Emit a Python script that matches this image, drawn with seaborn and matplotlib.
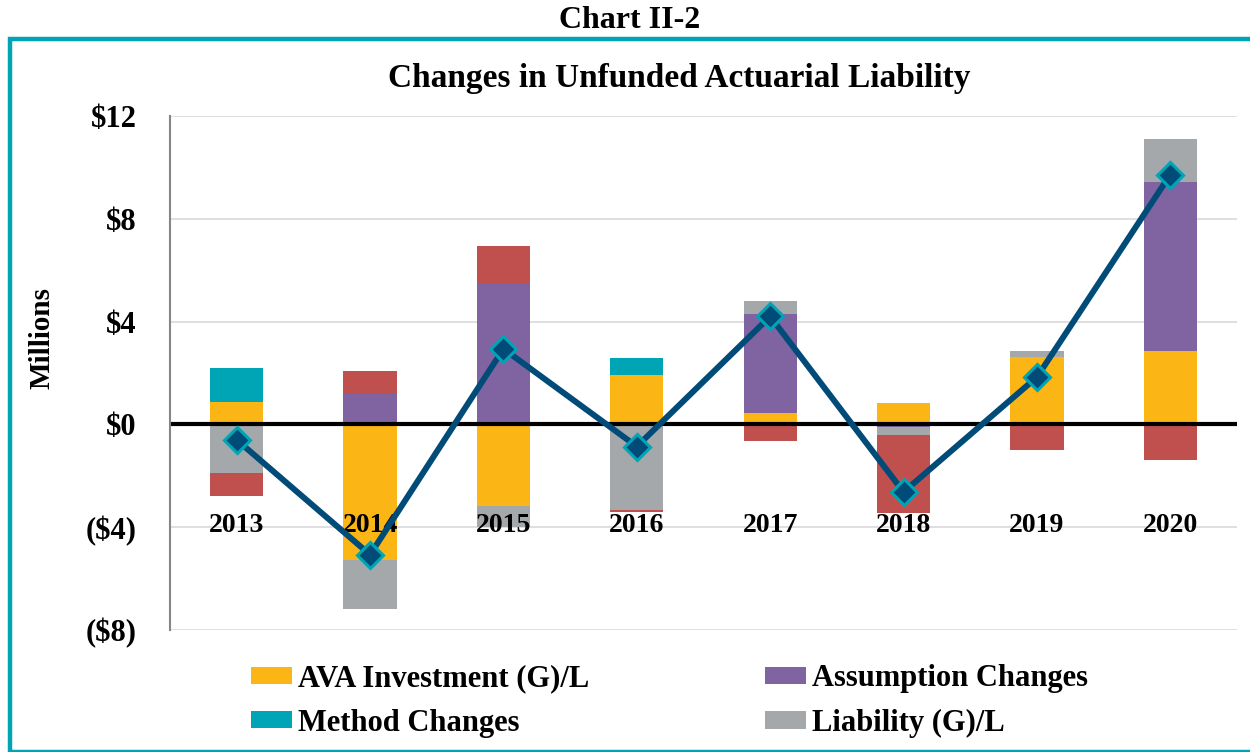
import matplotlib
matplotlib.use("Agg")
import matplotlib.pyplot as plt
from matplotlib.patches import Patch, Rectangle
import numpy as np
import seaborn as sns

# ---- data ($ millions) ----
years = ["2013", "2014", "2015", "2016", "2017", "2018", "2019", "2020"]
ava_investment = [0.86, -5.27, -3.19, 1.93, 0.45, 0.82, 2.61, 2.85]
assumption_changes = [0.00, 1.18, 5.47, 0.00, 3.84, -0.10, 0.00, 6.57]
method_changes = [1.35, 0.00, 0.00, 0.65, 0.00, 0.00, 0.00, 0.00]
liability_gl = [-1.89, -1.90, -0.80, -3.32, 0.53, -0.32, 0.23, 1.70]
other_changes = [-0.90, 0.91, 1.46, -0.07, -0.65, -3.04, -1.01, -1.40]
net_change = [-0.60, -5.07, 2.94, -0.86, 4.20, -2.63, 1.84, 9.72]

series_labels = ["AVA Investment (G)/L", "Assumption Changes", "Method Changes",
                 "Liability (G)/L", None]
series_values = [ava_investment, assumption_changes, method_changes,
                 liability_gl, other_changes]
series_colors = ["#FBB616", "#8064A2", "#00A5B5", "#A5A8AB", "#C0504D"]

y_ticks = [12, 8, 4, 0, -4, -8]
y_tick_labels = ["$12", "$8", "$4", "$0", "($4)", "($8)"]

NAVY = "#004B78"
TEAL = "#00A5B5"

sns.set_theme(style="white")
plt.rcParams["font.family"] = ["Liberation Serif", "DejaVu Serif"]
plt.rcParams["font.weight"] = "bold"
plt.rcParams["text.color"] = "black"
plt.rcParams["axes.labelcolor"] = "black"
plt.rcParams["ytick.color"] = "black"

fig = plt.figure(figsize=(12.5, 7.52), dpi=100)
ax = fig.add_axes([170 / 1250, 1 - 630 / 752, 1067 / 1250, (630 - 116) / 752])

# stacked bars: positives stack upward from 0, negatives downward.
# Draw cumulative totals from the outermost segment inward so each
# inner segment covers the lower part of the previous one.
vals = np.array(series_values)
cum_pos = np.cumsum(np.clip(vals, 0, None), axis=0)
cum_neg = np.cumsum(np.clip(vals, None, 0), axis=0)
for i in range(len(series_values) - 1, -1, -1):
    for heights in (cum_pos[i], cum_neg[i]):
        sns.barplot(x=years, y=list(heights), order=years, color=series_colors[i],
                    saturation=1, width=0.4, linewidth=0, errorbar=None, ax=ax,
                    zorder=1)

# zero line
ax.axhline(0, color="black", lw=3, zorder=2)

# net change line
sns.pointplot(x=years, y=net_change, order=years, color=NAVY, markers="D",
              linewidth=4.3, markersize=13, markeredgecolor=TEAL,
              markeredgewidth=2.2, errorbar=None, ax=ax, zorder=4)

ax.set_xlim(-0.5, len(years) - 0.5)
ax.set_ylim(-8, 12)
ax.set_yticks(y_ticks)
ax.set_yticklabels(y_tick_labels, fontsize=22, fontweight="bold", color="black")
ax.tick_params(axis="y", length=0, pad=24)
ax.set_xticks([])
ax.set_xlabel("")
ax.set_ylabel("Millions", fontsize=21, fontweight="bold", color="black")
ax.yaxis.set_label_coords((56 - 170) / 1067, (630 - 338) / 514)

ax.grid(axis="y", color="#D9D9D9", lw=1.2, zorder=0)
ax.set_axisbelow(True)
for side in ("top", "right", "bottom"):
    ax.spines[side].set_visible(False)
ax.spines["left"].set_color("#868686")
ax.spines["left"].set_linewidth(1.5)

# year labels sit inside the plot area
for i, yr in enumerate(years):
    ax.text(i, -3.92, yr, ha="center", va="center", fontsize=20,
            fontweight="bold", color="black", zorder=3)

# titles
fig.text(630 / 1250, 1 - 21 / 752, "Chart II-2", ha="center", va="center",
         fontsize=23, fontweight="bold", color="black")
fig.text(679 / 1250, 1 - 79 / 752, "Changes in Unfunded Actuarial Liability",
         ha="center", va="center", fontsize=24, fontweight="bold", color="black")

# legend
handles = [Patch(facecolor=c, edgecolor="none", label=l)
           for l, c in zip(series_labels, series_colors) if l is not None]
order = [0, 2, 1, 3]
leg = fig.legend([handles[k] for k in order], [handles[k].get_label() for k in order],
                 ncol=2, loc="center left", bbox_to_anchor=(223 / 1250, 1 - 701 / 752),
                 frameon=False, handlelength=1.35, handleheight=0.5,
                 handletextpad=0.2, columnspacing=5.75, labelspacing=0.5,
                 prop={"weight": "bold", "size": 22})
for t in leg.get_texts():
    t.set_color("black")

# teal frame around the chart
fig.patches.append(Rectangle((10 / 1250, 0.0005), 1245 / 1250, 1 - 39 / 752 - 0.0005,
                             transform=fig.transFigure, fill=False,
                             edgecolor=TEAL, lw=3.2, zorder=0))

fig.savefig("out.png", dpi=100)
